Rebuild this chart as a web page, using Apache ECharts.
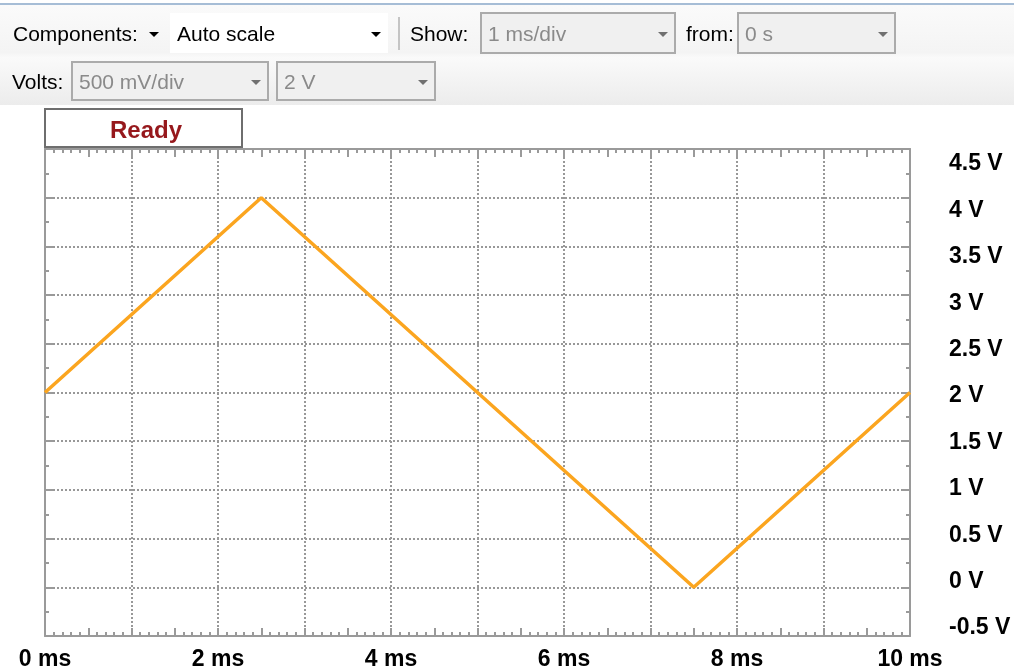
<!DOCTYPE html>
<html>
<head>
<meta charset="utf-8">
<title>Scope trace</title>
<script src="https://cdn.jsdelivr.net/npm/echarts@6/dist/echarts.min.js"></script>
<style>
  html, body { margin: 0; padding: 0; background: #ffffff; }
  #chart { width: 1014px; height: 671px; }
</style>
</head>
<body>
<div id="chart"></div>
<script>
// Trace samples: time (ms) and voltage (V) at the corners of the triangle wave
var timeMs = [0, 2.5, 7.5, 10];
var volts = [2, 4, 0, 2];

// Axis ranges and tick formatting
var timeRange = [0, 10];
var voltRange = [-0.5, 4.5];
var timeStep = 1;
var timeLabelStep = 2;
var voltStep = 0.5;
var timeUnit = ' ms';
var voltUnit = ' V';

// Toolbar captions
var componentsLabel = 'Components:';
var scaleMode = 'Auto scale';
var showLabel = 'Show:';
var timeBase = '1 ms/div';
var fromLabel = 'from:';
var fromValue = '0 s';
var voltsLabel = 'Volts:';
var voltScale = '500 mV/div';
var voltOffset = '2 V';
var statusText = 'Ready';

var UI_FONT = '"Liberation Sans", Arial, sans-serif';
var GRID_COLOR = '#989898';
var FRAME_COLOR = '#9a9a9a';

function combo(x, y, w, h, text, enabled) {
  var els = [];
  els.push({
    type: 'rect', shape: { x: x, y: y, width: w, height: h },
    style: { fill: enabled ? '#ffffff' : '#f0f0f0', stroke: enabled ? null : '#ababab', lineWidth: 2 }
  });
  els.push({
    type: 'text', x: x + 7, y: y + h / 2 + 2,
    style: { text: text, font: '21px ' + UI_FONT, fill: enabled ? '#000000' : '#8a8a8a', verticalAlign: 'middle' }
  });
  var ax = x + w - 12, ay = y + h / 2 + 1;
  els.push({
    type: 'polygon', shape: { points: [[ax - 5, ay - 2], [ax + 5, ay - 2], [ax, ay + 3]] },
    style: { fill: enabled ? '#000000' : '#707070' }
  });
  return els;
}

var toolbar = [
  {
    type: 'rect', shape: { x: 0, y: 0, width: 1014, height: 105 },
    style: {
      fill: new echarts.graphic.LinearGradient(0, 0, 0, 1, [
        { offset: 0, color: '#fbfbfb' }, { offset: 0.5, color: '#f4f4f4' },
        { offset: 0.55, color: '#fafafa' }, { offset: 1, color: '#ececec' }
      ])
    }
  },
  { type: 'rect', shape: { x: 0, y: 0, width: 1014, height: 3 }, style: { fill: '#ffffff' } },
  { type: 'line', shape: { x1: 0, y1: 4, x2: 1014, y2: 4 }, style: { stroke: '#a6bdd6', lineWidth: 2 } },
  { type: 'text', x: 13, y: 35, style: { text: componentsLabel, font: '21px ' + UI_FONT, fill: '#000', verticalAlign: 'middle' } },
  { type: 'polygon', shape: { points: [[149, 32], [159, 32], [154, 37]] }, style: { fill: '#000' } }
]
.concat(combo(170, 13, 218, 40, scaleMode, true))
.concat([
  { type: 'line', shape: { x1: 399, y1: 17, x2: 399, y2: 50 }, style: { stroke: '#c4c4c4', lineWidth: 2 } },
  { type: 'text', x: 410, y: 35, style: { text: showLabel, font: '21px ' + UI_FONT, fill: '#000', verticalAlign: 'middle' } }
])
.concat(combo(481, 13, 194, 40, timeBase, false))
.concat([
  { type: 'text', x: 686, y: 35, style: { text: fromLabel, font: '21px ' + UI_FONT, fill: '#000', verticalAlign: 'middle' } }
])
.concat(combo(738, 13, 157, 40, fromValue, false))
.concat([
  { type: 'text', x: 12, y: 83, style: { text: voltsLabel, font: '21px ' + UI_FONT, fill: '#000', verticalAlign: 'middle' } }
])
.concat(combo(72, 62, 196, 38, voltScale, false))
.concat(combo(277, 62, 158, 38, voltOffset, false))
.concat([
  {
    type: 'rect', shape: { x: 45, y: 109, width: 197, height: 38 },
    style: { fill: '#ffffff', stroke: '#6e6e6e', lineWidth: 2 }
  },
  {
    type: 'text', x: 146, y: 131,
    style: { text: statusText, font: 'bold 24px ' + UI_FONT, fill: '#96181c', align: 'center', verticalAlign: 'middle' }
  }
]);

var chart = echarts.init(document.getElementById('chart'), null, { renderer: 'canvas' });

var frameAxis = {
  type: 'value',
  min: timeRange[0], max: timeRange[1], interval: timeStep,
  axisLine: { show: true, onZero: false, lineStyle: { color: FRAME_COLOR, width: 2 } },
  axisTick: { show: true, inside: true, length: 4, lineStyle: { color: FRAME_COLOR, width: 2 } },
  minorTick: { show: true, splitNumber: 10, length: 4, lineStyle: { color: FRAME_COLOR, width: 2 } },
  axisLabel: { show: false },
  splitLine: { show: false }
};

function halfTicks(pos) {
  return {
    type: 'value', gridIndex: 0, position: pos,
    min: timeRange[0], max: timeRange[1], interval: timeStep / 2,
    axisLine: { show: false, onZero: false },
    axisTick: { show: true, inside: true, length: 8, lineStyle: { color: FRAME_COLOR, width: 2 } },
    axisLabel: { show: false },
    splitLine: { show: false }
  };
}

function voltFrame(pos, withGrid) {
  return {
    type: 'value', gridIndex: 0, position: pos,
    min: voltRange[0], max: voltRange[1], interval: voltStep,
    axisLine: { show: true, onZero: false, lineStyle: { color: FRAME_COLOR, width: 2 } },
    axisTick: { show: true, inside: true, length: 8, lineStyle: { color: FRAME_COLOR, width: 2 } },
    minorTick: { show: true, splitNumber: 2, length: 4, lineStyle: { color: FRAME_COLOR, width: 2 } },
    axisLabel: { show: false },
    splitLine: { show: withGrid, lineStyle: { color: GRID_COLOR, width: 2, type: [2, 2] } }
  };
}

var option = {
  backgroundColor: '#ffffff',
  animation: false,
  grid: [
    // plotting area
    { left: 45, right: 104, top: 149, bottom: 35, containLabel: false },
    // area the voltage captions are spread over
    { left: 45, right: 104, top: 164, bottom: 43, containLabel: false }
  ],
  xAxis: [
    Object.assign({}, frameAxis, {
      gridIndex: 0, position: 'bottom',
      axisLabel: {
        show: true, margin: 12, showMinLabel: true, showMaxLabel: true,
        formatter: function (v) { return v % timeLabelStep === 0 ? v + timeUnit : ''; },
        fontFamily: UI_FONT, fontWeight: 'bold', fontSize: 23, color: '#000000'
      },
      splitLine: { show: true, lineStyle: { color: GRID_COLOR, width: 2, type: [2, 2] } }
    }),
    Object.assign({}, frameAxis, { gridIndex: 0, position: 'top' }),
    halfTicks('bottom'),
    halfTicks('top'),
    { type: 'value', gridIndex: 1, show: false, min: timeRange[0], max: timeRange[1] }
  ],
  yAxis: [
    voltFrame('left', true),
    voltFrame('right', false),
    {
      type: 'value', gridIndex: 1, position: 'right',
      min: voltRange[0], max: voltRange[1], interval: voltStep,
      axisLine: { show: false }, axisTick: { show: false }, splitLine: { show: false },
      axisLabel: {
        show: true, margin: 39, align: 'left',
        formatter: function (v) { return v + voltUnit; },
        fontFamily: UI_FONT, fontWeight: 'bold', fontSize: 23, color: '#000000'
      }
    }
  ],
  series: [
    {
      type: 'line',
      xAxisIndex: 0, yAxisIndex: 0,
      data: timeMs.map(function (t, i) { return [t, volts[i]]; }),
      symbol: 'none',
      lineStyle: { color: '#fba51f', width: 3.5 },
      z: 5
    }
  ],
  graphic: { elements: toolbar }
};

chart.setOption(option);
</script>
</body>
</html>
